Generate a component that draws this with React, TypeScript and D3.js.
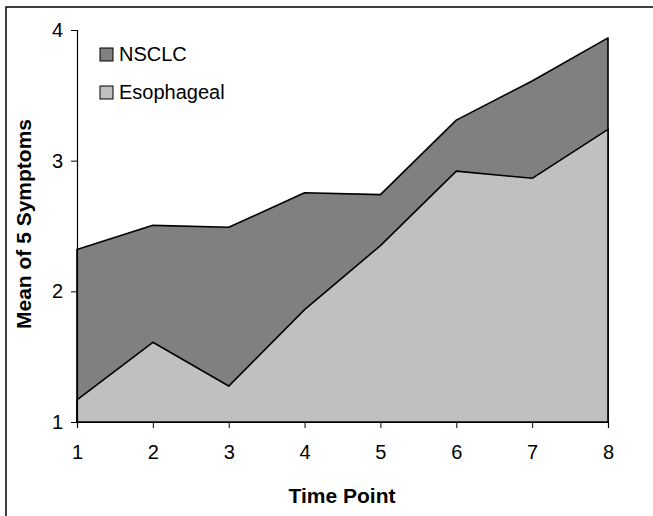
import React, { useEffect, useRef } from 'react';
import * as d3 from 'd3';

const timePoints = [1, 2, 3, 4, 5, 6, 7, 8];
const nsclc = [2.32, 2.505, 2.49, 2.755, 2.74, 3.31, 3.61, 3.94];
const esophageal = [1.17, 1.61, 1.275, 1.86, 2.35, 2.92, 2.865, 3.24];
const yTicks = [1, 2, 3, 4];
const seriesNames = ['NSCLC', 'Esophageal'];
const seriesColors = ['#808080', '#c0c0c0'];

const App: React.FC = () => {
  const svgRef = useRef<SVGSVGElement>(null);

  useEffect(() => {
    if (!svgRef.current) return;
    const svg = d3.select(svgRef.current);
    svg.selectAll('*').remove();

    const font = '"Liberation Sans", Arial, sans-serif';
    const left = 77, right = 608, top = 30, bottom = 422;

    const x = d3.scaleLinear().domain([1, 8]).range([left, right]);
    const y = d3.scaleLinear().domain([1, 4]).range([bottom, top]);

    // outer frame (right/bottom edges fall outside the picture)
    svg.append('rect')
      .attr('x', 6).attr('y', 7).attr('width', 700).attr('height', 600)
      .attr('fill', '#fff').attr('stroke', '#000').attr('stroke-width', 1.5);

    const area = d3.area<number>()
      .x((_, i) => x(timePoints[i]))
      .y0(y(1))
      .y1(d => y(d));

    // NSCLC behind, Esophageal in front
    [nsclc, esophageal].forEach((vals, i) => {
      svg.append('path')
        .datum(vals)
        .attr('fill', seriesColors[i])
        .attr('stroke', '#000')
        .attr('stroke-width', 1.6)
        .attr('stroke-linejoin', 'round')
        .attr('d', area);
    });

    // axes
    const yAxis = svg.append('g')
      .attr('transform', `translate(${left},0)`)
      .call(d3.axisLeft(y).tickValues(yTicks).tickSize(6).tickPadding(8).tickFormat(d3.format('d')));
    yAxis.select('.domain').attr('stroke', '#000').attr('stroke-width', 1.2);
    yAxis.selectAll('line').attr('stroke', '#000');
    yAxis.selectAll('text').attr('font-size', 20).attr('font-family', font).attr('fill', '#000');

    const xAxis = svg.append('g')
      .attr('transform', `translate(0,${bottom})`)
      .call(d3.axisBottom(x).tickValues(timePoints).tickSize(6).tickPadding(17).tickFormat(d3.format('d')));
    xAxis.select('.domain').attr('stroke', '#000').attr('stroke-width', 1.2);
    xAxis.selectAll('line').attr('stroke', '#000');
    xAxis.selectAll('text').attr('font-size', 20).attr('font-family', font).attr('fill', '#000');

    // axis titles
    svg.append('text')
      .attr('x', 342).attr('y', 503)
      .attr('text-anchor', 'middle')
      .attr('font-family', font).attr('font-weight', 'bold').attr('font-size', 21)
      .text('Time Point');

    svg.append('text')
      .attr('transform', 'translate(31,224) rotate(-90)')
      .attr('text-anchor', 'middle')
      .attr('font-family', font).attr('font-weight', 'bold').attr('font-size', 21)
      .text('Mean of 5 Symptoms');

    // legend
    const legend = svg.append('g').attr('transform', 'translate(100,48)');
    seriesNames.forEach((name, i) => {
      const row = legend.append('g').attr('transform', `translate(0,${i * 38})`);
      row.append('rect')
        .attr('width', 13).attr('height', 13)
        .attr('fill', seriesColors[i]).attr('stroke', '#000').attr('stroke-width', 1);
      row.append('text')
        .attr('x', 19).attr('y', 13)
        .attr('font-family', font).attr('font-size', 20)
        .text(name);
    });
  }, []);

  return (
    <div style={{ position: 'fixed', left: 0, top: 0 }}>
      <svg ref={svgRef} width={653} height={516} style={{ display: 'block' }}></svg>
    </div>
  );
};

export default App;
